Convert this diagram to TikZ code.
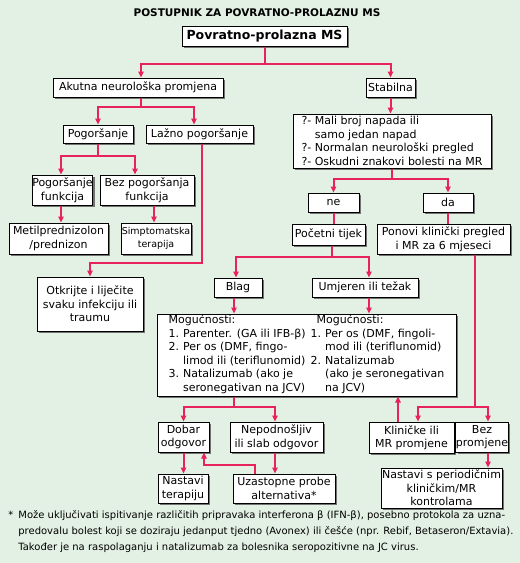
\documentclass[tikz,border=0pt]{standalone}
\usepackage{fontspec}
\setmainfont{DejaVu Sans}
\usetikzlibrary{arrows.meta,shadows}

\definecolor{bgGreen}{RGB}{227,240,228}
\definecolor{linkRed}{RGB}{232,35,91}
\newcommand{\boxfont}{\fontsize{11}{13.5}\selectfont}

\tikzset{every picture/.style={line width=0.75pt},
  box/.style={draw, fill=white, line width=1pt, inner sep=0pt, align=center, font=\boxfont,
    drop shadow={shadow xshift=2pt, shadow yshift=-2pt, fill=black!55, opacity=1}},
  link/.style={draw=linkRed, line width=2pt, line join=miter},
  arr/.style={link, -{Triangle[length=6pt,width=5.5pt]}}}

\begin{document}
\begin{tikzpicture}[x=1pt,y=1pt,yscale=-1]
\fill[bgGreen] (0,0) rectangle (520,563);
\useasboundingbox (0,0) rectangle (520,563);

% Title
\node[font=\fontsize{10.5}{12}\selectfont\bfseries] (title) at (257,12.5) {POSTUPNIK ZA POVRATNO-PROLAZNU MS};

%Boxes: top
\node[box, font=\fontsize{12.5}{14}\selectfont\bfseries, minimum width=165pt, minimum height=20pt] (root) at (264.5,36) {Povratno-prolazna MS};
\node[box, minimum width=170pt, minimum height=19pt] (akut) at (138,87.5) {Akutna neurološka promjena};
\node[box, minimum width=49pt, minimum height=19pt] (stab) at (390.5,87.5) {Stabilna};

%Boxes: left branch
\node[box, minimum width=70pt, minimum height=18pt] (pogor) at (98,134) {Pogoršanje};
\node[box, minimum width=107pt, minimum height=18pt] (lazno) at (199.5,134) {Lažno pogoršanje};
\node[box, minimum width=59pt, minimum height=30pt] (pfunk) at (62.5,190) {Pogoršanje\\funkcija};
\node[box, minimum width=94pt, minimum height=30pt] (bezfunk) at (147,190) {Bez pogoršanja\\funkcija};
\node[box, minimum width=99pt, minimum height=31pt] (metil) at (58.5,238.5) {Metilprednizolon\\/prednizon};
\node[box, font=\fontsize{9.5}{13}\selectfont, minimum width=70pt, minimum height=31pt] (simpt) at (156,238.5) {Simptomatska\\terapija};
\node[box, minimum width=106pt, minimum height=54pt] (otkr) at (90,304) {Otkrijte i liječite\\svaku infekciju ili\\traumu};

%Boxes: right branch
\node[box, align=left, minimum width=198pt, minimum height=54pt] (upit) at (392,141) {?- Mali broj napada ili\\\phantom{?- }samo jedan napad\\?- Normalan neurološki pregled\\?- Oskudni znakovi bolesti na MR};
\node[box, minimum width=51pt, minimum height=19pt] (ne) at (333.5,202.5) {ne};
\node[box, minimum width=50pt, minimum height=19pt] (da) at (448,202.5) {da};
\node[box, minimum width=73pt, minimum height=21pt] (pocet) at (328.5,234.5) {Početni tijek};
\node[box, minimum width=133pt, minimum height=30pt] (ponovi) at (443.5,239) {Ponovi klinički pregled\\i MR za 6 mjeseci};
\node[box, minimum width=48pt, minimum height=19pt] (blag) at (238,287.5) {Blag};
\node[box, minimum width=106pt, minimum height=19pt] (umjer) at (365,287.5) {Umjeren ili težak};

%Boxes: options
\node[box, minimum width=299pt, minimum height=82pt] (mog) at (306.5,355) {%
  \begin{tabular}{@{}l@{\hspace{4pt}}l@{\hspace{5pt}}l@{\hspace{4pt}}l@{}}
  \multicolumn{2}{@{}l}{Mogućnosti:} & \multicolumn{2}{l@{}}{Mogućnosti:}\\
  1. & Parenter. (GA ili IFB-β) & 1. & Per os (DMF, fingoli-\\
  2. & Per os (DMF, fingo- & & mod ili (teriflunomid)\\
     & limod ili (teriflunomid) & 2. & Natalizumab\\
  3. & Natalizumab (ako je & & (ako je seronegativan\\
     & seronegativan na JCV) & & na JCV)
  \end{tabular}};

%Boxes: bottom
\node[box, minimum width=51pt, minimum height=30pt] (dobar) at (183.5,437) {Dobar\\odgovor};
\node[box, minimum width=93pt, minimum height=30pt] (nepod) at (276.5,437) {Nepodnošljiv\\ili slab odgovor};
\node[box, minimum width=85pt, minimum height=31pt] (klin) at (411.5,437.5) {Kliničke ili\\MR promjene};
\node[box, minimum width=50pt, minimum height=30pt] (bezpr) at (482,437) {Bez\\promjene};
\node[box, minimum width=50pt, minimum height=29pt] (nastt) at (183,488.5) {Nastavi\\terapiju};
\node[box, minimum width=102pt, minimum height=29pt] (uzast) at (284,488.5) {Uzastopne probe\\alternativa*};
\node[box, minimum width=121pt, minimum height=40pt] (nastp) at (441.5,488) {Nastavi s periodičnim\\kliničkim/MR\\kontrolama};

%Connectors
\draw[link] (root.south) -- ++(0,17) coordinate (jRoot);
\draw[arr] (jRoot) -| ([xshift=3pt]akut.north);
\draw[arr] (jRoot) -| (stab.north);

\draw[link] ([xshift=3pt]akut.south) -- ++(0,9) coordinate (jAkut);
\draw[arr] (jAkut) -| (pogor.north);
\draw[arr] (jAkut) -| ([xshift=-5.5pt]lazno.north);

\draw[link] (pogor.south) -- ++(0,12) coordinate (jPogor);
\draw[arr] (jPogor) -| ([xshift=-1.5pt]pfunk.north);
\draw[arr] (jPogor) -| ([xshift=-12pt]bezfunk.north);
\draw[arr] ([xshift=-1.5pt]pfunk.south) -- ([xshift=-1.5pt]pfunk.south |- metil.north);
\draw[arr] ([xshift=-2pt]simpt.north |- bezfunk.south) -- ([xshift=-2pt]simpt.north);
\draw[arr] ([xshift=2.5pt]lazno.south) |- ++(-113,119) -| (otkr.north);

\draw[arr] (stab.south) -- (stab.south |- upit.north);
\draw[link] (upit.south) -- ++(0,10) coordinate (jUpit);
\draw[arr] (jUpit) -| (ne.north);
\draw[arr] (jUpit) -| (da.north);
\draw[link] (ne.south) -- (ne.south |- pocet.north);
\draw[link] (da.south) -- (da.south |- ponovi.north);

\draw[link] ([xshift=3.5pt]pocet.south) -- ++(0,11.5) coordinate (jPocet);
\draw[arr] (jPocet) -| ([xshift=-2pt]blag.north);
\draw[arr] (jPocet) -| ([xshift=4pt]umjer.north);
\draw[arr] ([xshift=-4pt]blag.south) -- ([xshift=-4pt]blag.south |- mog.north);
\draw[arr] ([xshift=4pt]umjer.south) -- ([xshift=4pt]umjer.south |- mog.north);

\draw[link] ([xshift=-72.5pt]mog.south) -- ++(0,10) coordinate (jMog);
\draw[arr] (jMog) -| (dobar.north);
\draw[arr] (jMog) -| ([xshift=-1.5pt]nepod.north);
\draw[arr] (dobar.south) -- (dobar.south |- nastt.north);
\draw[arr] ([xshift=-1.5pt]nepod.south) -- ([xshift=-1.5pt]nepod.south |- uzast.north);
\draw[arr] ([xshift=-29pt]uzast.north) |- ++(-51,-9) -| ([xshift=20.5pt]dobar.south);

\draw[link] ([xshift=31.5pt]ponovi.south) -- ++(0,152) coordinate (jPonovi);
\draw[arr] (jPonovi) -| ([xshift=6.5pt]klin.north);
\draw[arr] (jPonovi) -| ([xshift=6pt]bezpr.north);
\draw[arr] ([xshift=-13.5pt]klin.north) -- ([xshift=-13.5pt]klin.north |- mog.south);
\draw[arr] ([xshift=6pt]bezpr.south) -- ([xshift=6pt]bezpr.south |- nastp.north);

% Footnote
\node[anchor=north west, inner sep=0pt, font=\fontsize{10}{16}\selectfont] (fnote) at (8,507) {%
  \begin{tabular}{@{}l@{\hspace{5pt}}l@{}}
  * & Može uključivati ispitivanje različitih pripravaka interferona β (IFN-β), posebno protokola za uzna-\\
    & predovalu bolest koji se doziraju jedanput tjedno (Avonex) ili češće (npr. Rebif, Betaseron/Extavia).\\
    & Također je na raspolaganju i natalizumab za bolesnika seropozitivne na JC virus.
  \end{tabular}};

\end{tikzpicture}
\end{document}
